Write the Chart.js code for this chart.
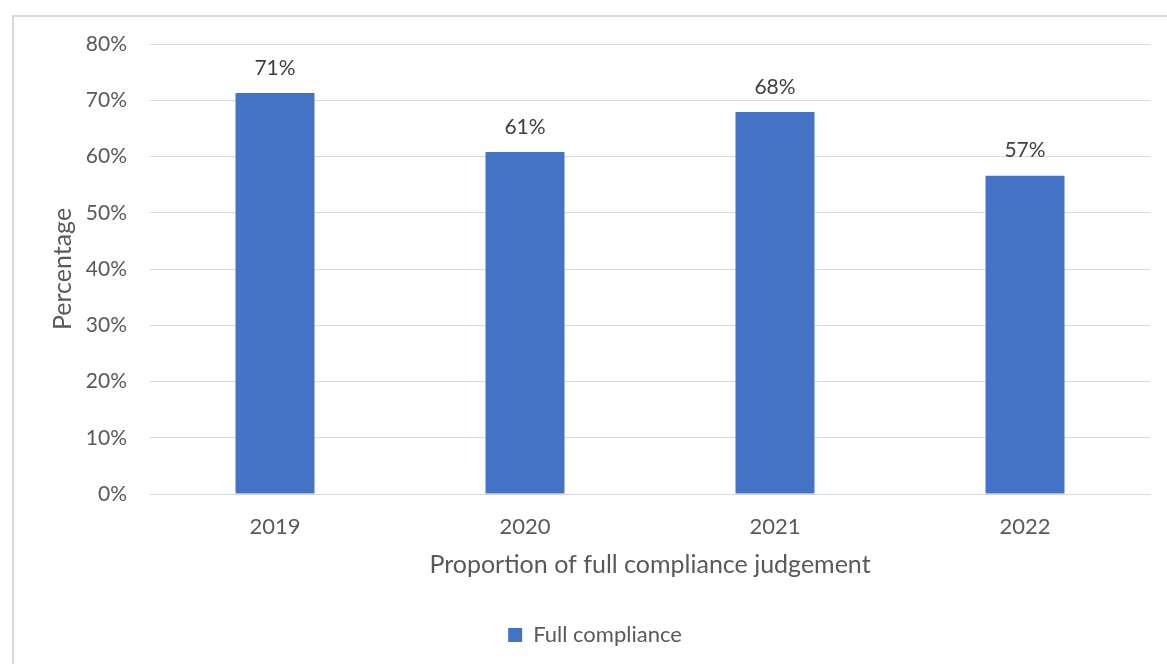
<!DOCTYPE html>
<html lang="en">
<head>
    <meta charset="UTF-8">
    <title>Full compliance</title>
    <script src="https://cdn.jsdelivr.net/npm/chart.js"></script>
    <style>
        body { margin: 0; background: #fff; }
        #wrap { position: relative; width: 1167px; height: 664px; }
        #frame {
            position: absolute; left: 12px; top: 15px;
            width: 1170px; height: 660px;
            border: 2px solid #d9d9d9; box-sizing: border-box;
        }
        canvas { position: absolute; left: 0; top: 0; }
    </style>
</head>
<body>
<div id="wrap">
    <div id="frame"></div>
    <canvas id="myChart" width="1167" height="664"></canvas>
</div>

<script>
    const years = ['2019', '2020', '2021', '2022'];
    const fullCompliance = [71.3, 60.8, 67.9, 56.6];
    const yTicks = [0, 10, 20, 30, 40, 50, 60, 70, 80];

    const textColor = '#595959';
    const fontFamily = 'Lato, "Noto Sans", sans-serif';

    // value labels above each bar
    const barLabels = {
        id: 'barLabels',
        afterDatasetsDraw(chart) {
            const ctx = chart.ctx;
            const meta = chart.getDatasetMeta(0);
            ctx.save();
            ctx.font = '21px ' + fontFamily;
            ctx.fillStyle = '#404040';
            ctx.textAlign = 'center';
            ctx.textBaseline = 'middle';
            meta.data.forEach((bar, i) => {
                ctx.fillText(Math.round(fullCompliance[i]) + '%', bar.x, bar.y - 25);
            });
            ctx.restore();
        }
    };

    const ctx = document.getElementById('myChart').getContext('2d');
    new Chart(ctx, {
        type: 'bar',
        data: {
            labels: years,
            datasets: [{
                label: 'Full compliance',
                data: fullCompliance,
                backgroundColor: '#4472C4',
                borderWidth: 0,
                categoryPercentage: 1,
                barPercentage: 0.316
            }]
        },
        options: {
            responsive: false,
            animation: false,
            layout: { padding: { top: 44, right: 17, left: 40, bottom: 8 } },
            plugins: {
                tooltip: { enabled: false },
                legend: {
                    position: 'bottom',
                    labels: {
                        boxWidth: 14,
                        boxHeight: 14,
                        padding: 10,
                        color: textColor,
                        font: { family: fontFamily, size: 22 }
                    }
                }
            },
            scales: {
                x: {
                    afterFit: s => { s.height = 120; },
                    grid: { display: false, drawTicks: false },
                    border: { display: true, color: '#d9d9d9', width: 1 },
                    ticks: {
                        padding: 20,
                        color: textColor,
                        font: { family: fontFamily, size: 22 }
                    },
                    title: {
                        display: true,
                        text: 'Proportion of full compliance judgement',
                        color: textColor,
                        font: { family: fontFamily, size: 25 },
                        padding: { top: 0, bottom: 34 }
                    }
                },
                y: {
                    min: 0,
                    max: 80,
                    afterFit: s => { s.width = 110; },
                    afterBuildTicks: s => { s.ticks = yTicks.map(v => ({ value: v })); },
                    grid: { color: '#d9d9d9', lineWidth: 1, drawTicks: false },
                    border: { display: false },
                    ticks: {
                        padding: 23,
                        color: textColor,
                        font: { family: fontFamily, size: 21 },
                        callback: v => v + '%'
                    },
                    title: {
                        display: true,
                        text: 'Percentage',
                        color: textColor,
                        font: { family: fontFamily, size: 25 },
                        padding: { top: 8, bottom: 0 }
                    }
                }
            }
        },
        plugins: [barLabels]
    });
</script>
</body>
</html>
